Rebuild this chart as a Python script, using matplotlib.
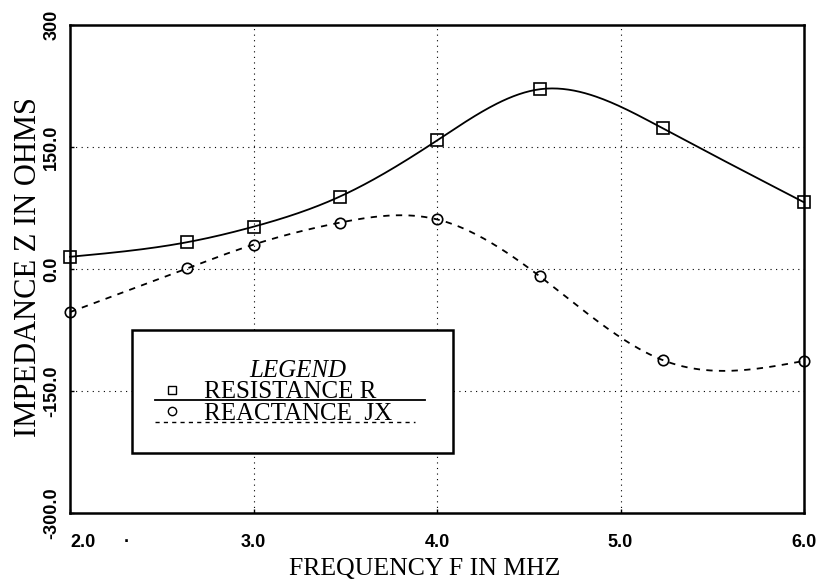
import numpy as np
import matplotlib
matplotlib.use("Agg")
import matplotlib.pyplot as plt
from matplotlib.patches import Rectangle

# ---- data ----
freq = [2.0, 2.64, 3.0, 3.47, 4.0, 4.56, 5.23, 6.0]
resistance = [15.0, 33.0, 52.0, 89.0, 158.0, 221.0, 173.0, 82.0]
reactance = [-53.0, 1.0, 30.0, 57.0, 61.0, -9.0, -112.0, -113.0]
xticks = [2.0, 3.0, 4.0, 5.0, 6.0]
xticklabels = ["2.0", "3.0", "4.0", "5.0", "6.0"]
yticks = [-300, -150, 0, 150, 300]
yticklabels = ["-300.0", "-150.0", "0.0", "150.0", "300"]
legend_title = "LEGEND"
legend_labels = ["RESISTANCE R", "REACTANCE  JX"]


def natural_spline(x, y, n=400):
    x = np.asarray(x, float)
    y = np.asarray(y, float)
    m = len(x)
    h = np.diff(x)
    A = np.zeros((m, m))
    b = np.zeros(m)
    A[0, 0] = 1
    A[-1, -1] = 1
    for i in range(1, m - 1):
        A[i, i - 1] = h[i - 1]
        A[i, i] = 2 * (h[i - 1] + h[i])
        A[i, i + 1] = h[i]
        b[i] = 3 * ((y[i + 1] - y[i]) / h[i] - (y[i] - y[i - 1]) / h[i - 1])
    c = np.linalg.solve(A, b)
    xs = np.linspace(x[0], x[-1], n)
    ys = np.empty_like(xs)
    for k, xv in enumerate(xs):
        i = min(np.searchsorted(x, xv, side="right") - 1, m - 2)
        dx = xv - x[i]
        bi = (y[i + 1] - y[i]) / h[i] - h[i] * (2 * c[i] + c[i + 1]) / 3
        di = (c[i + 1] - c[i]) / (3 * h[i])
        ys[k] = y[i] + bi * dx + c[i] * dx ** 2 + di * dx ** 3
    return xs, ys


serif = ["Liberation Serif", "DejaVu Serif"]
sans = ["Liberation Sans", "DejaVu Sans"]

fig = plt.figure(figsize=(8.27, 5.82), dpi=100)
W, H = 827, 582
ax = fig.add_axes([70 / W, (H - 513) / H, (804 - 70) / W, (513 - 25) / H])

ax.set_xlim(2.0, 6.0)
ax.set_ylim(-300, 300)

# grid
for gx in [3.0, 4.0, 5.0]:
    ax.axvline(gx, color="black", lw=0.8, ls=(0, (1, 4)), zorder=1)
for gy in [-150, 0, 150]:
    ax.axhline(gy, color="black", lw=0.8, ls=(0, (1, 4)), zorder=1)

xs, ys = natural_spline(freq, resistance)
ax.plot(xs, ys, color="black", lw=1.3, zorder=3, clip_on=False)
xs2, ys2 = natural_spline(freq, reactance)
ax.plot(xs2, ys2, color="black", lw=1.3, ls=(0, (3.5, 3.5)), zorder=3, clip_on=False)

ax.plot(freq, resistance, ls="none", marker="s", ms=8, mfc="none", mec="black",
        mew=1.2, zorder=4, clip_on=False)
ax.plot(freq, reactance, ls="none", marker="o", ms=7.5, mfc="none", mec="black",
        mew=1.2, zorder=4, clip_on=False)

for s in ax.spines.values():
    s.set_linewidth(1.8)

ax.set_xticks(xticks)
ax.set_xticklabels(xticklabels, fontfamily=sans, fontweight="bold", fontsize=13)
ax.get_xticklabels()[0].set_ha("left")
ax.set_yticks(yticks)
ax.set_yticklabels(yticklabels, fontfamily=sans, fontweight="bold", fontsize=13,
                   rotation=90, va="center")
ax.tick_params(axis="both", length=3, width=1.0, direction="in")
ax.tick_params(axis="x", pad=15)
ax.tick_params(axis="y", pad=7)

ax.set_xlabel("FREQUENCY F IN MHZ", fontfamily=serif, fontsize=18.5, va="center")
ax.xaxis.set_label_coords((425 - 70) / 734, -(569 - 513) / 488)
ax.set_ylabel("IMPEDANCE Z IN OHMS", fontfamily=serif, fontsize=22, va="center")
ax.yaxis.set_label_coords(-(70 - 29) / 734, (513 - 267) / 488)

# stray dot on the x axis (present in the reference)
fig.text(127 / W, 1 - 542 / H, "·", ha="center", va="center", fontsize=13,
         fontweight="bold", fontfamily=sans)

# legend box (drawn manually to match the reference)
def px2data(px, py):
    return ax.transData.inverted().transform(
        fig.transFigure.transform((px / W, 1 - py / H)))

x0, y0 = px2data(132, 453)
x1, y1 = px2data(453, 330)
ax.add_patch(Rectangle((x0, y0), x1 - x0, y1 - y0, fill=True, fc="white",
                       ec="black", lw=1.8, zorder=5))
lx, ly = px2data(298, 371)
ax.text(lx, ly, legend_title, fontfamily=serif, fontstyle="italic", fontsize=18,
        ha="center", va="center", zorder=6)

mx, my1 = px2data(172, 390)
_, my2 = px2data(172, 411)
tx, _ = px2data(204, 0)
ax.plot([mx], [my1], marker="s", ms=6, mfc="none", mec="black", mew=1.0, zorder=6)
ax.plot([mx], [my2], marker="o", ms=6, mfc="none", mec="black", mew=1.0, zorder=6)
ax.text(tx, my1, legend_labels[0], fontfamily=serif, fontsize=18, ha="left",
        va="center_baseline", zorder=6)
ax.text(tx, my2, legend_labels[1], fontfamily=serif, fontsize=18, ha="left",
        va="center_baseline", zorder=6)
la, lb = px2data(155, 400)
lc, _ = px2data(425, 400)
ax.plot([la, lc], [lb, lb], color="black", lw=1.3, zorder=6)
la2, lb2 = px2data(155, 422)
lc2, _ = px2data(415, 422)
ax.plot([la2, lc2], [lb2, lb2], color="black", lw=1.0, ls=(0, (3, 3)), zorder=6)

fig.savefig("out.png", dpi=100)
